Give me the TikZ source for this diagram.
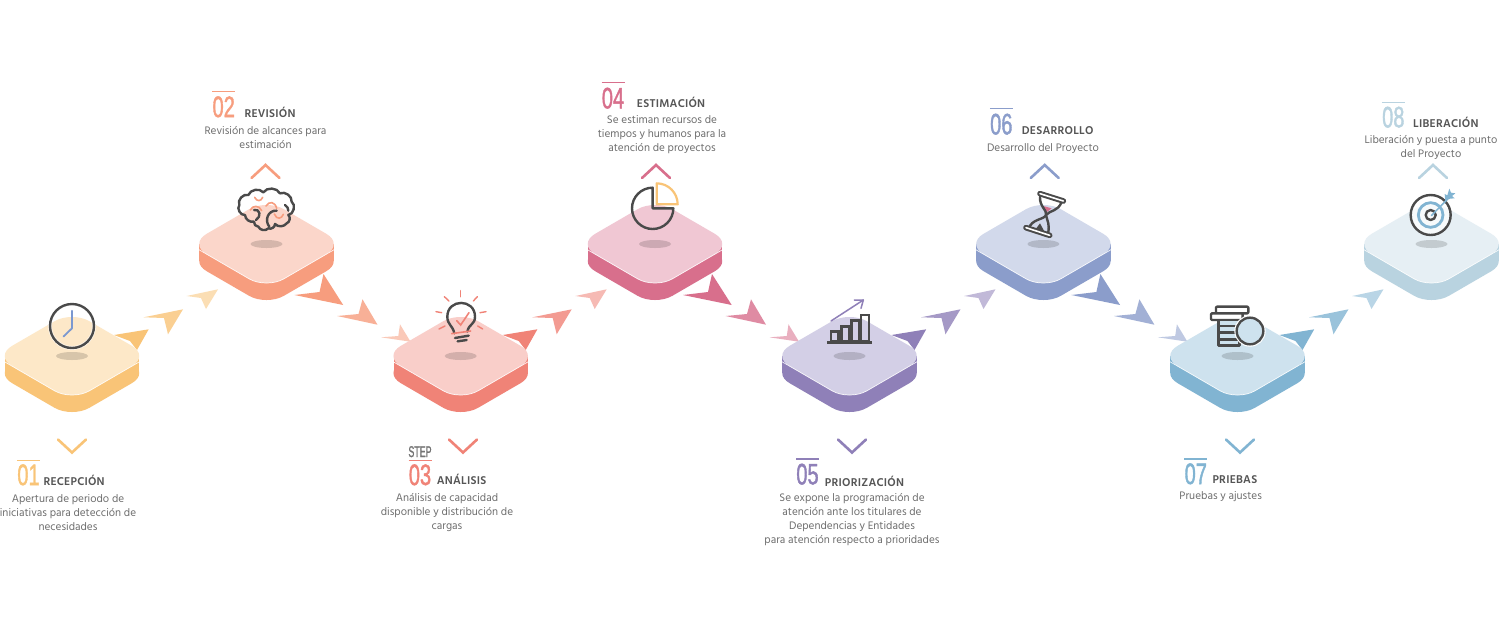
\documentclass[tikz,border=0pt]{standalone}
\usepackage{fontspec}
\setmainfont{Hind Madurai}
\newfontfamily\numfont[FakeBold=1.7]{Liberation Sans}
\definecolor{topa}{HTML}{FDE8C8}\definecolor{sidea}{HTML}{F9C477}
\definecolor{topb}{HTML}{FBD6CA}\definecolor{sideb}{HTML}{F79D7E}
\definecolor{topc}{HTML}{F9CEC9}\definecolor{sidec}{HTML}{F08377}
\definecolor{topd}{HTML}{F0C7D3}\definecolor{sided}{HTML}{D86F8C}
\definecolor{tope}{HTML}{D3CFE6}\definecolor{sidee}{HTML}{8F80B8}
\definecolor{topf}{HTML}{D2D9EB}\definecolor{sidef}{HTML}{8B9DCB}
\definecolor{topg}{HTML}{CEE2EE}\definecolor{sideg}{HTML}{81B4D2}
\definecolor{toph}{HTML}{E6EFF4}\definecolor{sideh}{HTML}{B9D3E0}
\definecolor{dk}{HTML}{4A4A4A}
\definecolor{headc}{HTML}{555555}
\definecolor{bodyc}{HTML}{6E6E6E}
\definecolor{handc}{HTML}{7B98D0}
\tikzset{
  x=1pt,y=-1pt,
  bodytext/.style={font=\fontsize{11.2}{14}\selectfont,text=bodyc,align=center,inner sep=0pt,anchor=north},
  headtext/.style={font=\fontsize{11.6}{13}\selectfont\bfseries\addfontfeature{LetterSpace=2},text=headc,inner sep=0pt,anchor=base west},
  numtext/.style={inner sep=0pt,anchor=base},
  chev/.style={line width=2.6pt,line cap=round,line join=miter},
  ico/.style={draw=dk,line width=2.4pt,line cap=round,line join=round},
  zoomed/.style={x=0.33333pt,y=-0.33333pt},
}
\newcommand\squircle{(-1,.55) .. controls (-1,.8) and (-.8,1) .. (-.55,1) -- (.55,1) .. controls (.8,1) and (1,.8) .. (1,.55) -- (1,-.55) .. controls (1,-.8) and (.8,-1) .. (.55,-1) -- (-.55,-1) .. controls (-.8,-1) and (-1,-.8) .. (-1,-.55) -- cycle}
\newcommand\platform[4]{%
  \begin{scope}[shift={(#1,#2)}]
    \fill[#4] (-67.2,0) rectangle (67.2,17);
    \begin{scope}[shift={(0,17)},x={(38.7pt,-22.45pt)},y={(-38.7pt,-22.45pt)}]
      \fill[#4] \squircle;
    \end{scope}
    \begin{scope}[x={(38.7pt,-22.45pt)},y={(-38.7pt,-22.45pt)}]
      \fill[#3] \squircle;
      \draw[white,line width=.7pt,opacity=.9] (-.8,1) -- (.55,1) .. controls (.8,1) and (1,.8) .. (1,.55) -- (1,-.8);
    \end{scope}
    \fill[black,opacity=.15] (0,0) ellipse [x radius=16,y radius=4];
  \end{scope}}
\newcommand\dartsup[3]{%
  \begin{scope}[shift={(#1,#2)}]
    \fill[#3] (42,-21) -- (76.7,-26.7) -- (65,-6) -- (58,-15) -- cycle;
    \fill[#3,opacity=.8] (71.7,-38.7) -- (111,-46.7) -- (96,-21.7) -- (92,-38) -- cycle;
    \fill[#3,opacity=.55] (114.7,-60) -- (146,-66.7) -- (134,-47) -- (129,-58) -- cycle;
  \end{scope}}
\newcommand\dartsdown[3]{%
  \begin{scope}[shift={(#1,#2)}]
    \fill[#3] (28,51) -- (53,48) -- (57,30) -- (76.7,61) -- cycle;
    \fill[#3,opacity=.8] (70.7,72) -- (92,70) -- (96,55.3) -- (111,80.7) -- cycle;
    \fill[#3,opacity=.55] (114.5,93.3) -- (131.8,92) -- (133.5,80.3) -- (144,97.7) -- cycle;
  \end{scope}}
\newcommand\chevdown[2]{\draw[chev,#2] ({#1-14},439.5) -- (#1,452.5) -- ({#1+14},439.5);}
\newcommand\chevup[2]{\draw[chev,#2] ({#1-14},178) -- (#1,165) -- ({#1+14},178);}
% name, colour, num x, baseline, line y, digits
\newcommand\stepnum[6]{%
  \draw[#2,line width=1.4pt] ({#3-11.5},#5) -- ({#3+11.5},#5);
  \node[numtext,text=#2] (#1) at (#3,#4) {\scalebox{.68}[1]{\fontsize{29.5}{29.5}\numfont #6}};}
\begin{document}
\begin{tikzpicture}
\useasboundingbox (0,0) rectangle (1500,625);
\fill[white] (0,0) rectangle (1500,625);
% darts
\dartsup{72}{356}{sidea}
\dartsdown{266.5}{244}{sideb}
\dartsup{460.7}{356}{sidec}
\dartsdown{655}{244}{sided}
\dartsup{849.5}{356}{sidee}
\dartsdown{1043.4}{244}{sidef}
\dartsup{1237.5}{356}{sideg}
% platforms
\platform{72}{356}{topa}{sidea}
\platform{266.5}{244}{topb}{sideb}
\platform{460.7}{356}{topc}{sidec}
\platform{655}{244}{topd}{sided}
\platform{849.5}{356}{tope}{sidee}
\platform{1043.4}{244}{topf}{sidef}
\platform{1237.5}{356}{topg}{sideg}
\platform{1431.5}{244}{toph}{sideh}
% chevrons
\chevdown{72}{sidea}
\chevup{265.5}{sideb}
\chevdown{463}{sidec}
\chevup{656}{sided}
\chevdown{852}{sidee}
\chevup{1044.7}{sidef}
\chevdown{1240}{sideg}
\chevup{1433}{sideh}
% numbers
\stepnum{n1}{sidea}{28.5}{485}{460.3}{01}
\stepnum{n2}{sideb}{223.7}{117}{91.3}{02}
\stepnum{n3}{sidec}{420}{485}{460.3}{03}
\stepnum{n4}{sided}{613}{108.3}{82.7}{04}
\stepnum{n5}{sidee}{807.5}{484.3}{459}{05}
\stepnum{n6}{sidef}{1001.3}{134.3}{108.3}{06}
\stepnum{n7}{sideg}{1195.8}{484}{459}{07}
\stepnum{n8}{sideh}{1393.3}{127.3}{102.3}{08}
\node[numtext,text=gray!90!black] (stepword) at (420,457) {\scalebox{.57}[1]{\fontsize{15.5}{15.5}\numfont STEP}};
% headings
\node[headtext] (h1) at (43.3,485) {RECEPCIÓN};
\node[headtext] (h2) at (244.3,117) {REVISIÓN};
\node[headtext] (h3) at (436.7,484.7) {ANÁLISIS};
\node[headtext] (h4) at (636.7,107) {ESTIMACIÓN};
\node[headtext] (h5) at (824.7,486) {PRIORIZACIÓN};
\node[headtext] (h6) at (1021.7,134.7) {DESARROLLO};
\node[headtext] (h7) at (1212.3,483.3) {PRIEBAS};
\node[headtext] (h8) at (1413,127) {LIBERACIÓN};
% body
\node[bodytext] (b1) at (68,494.2) {Apertura de periodo de\\iniciativas para detección de\\necesidades};
\node[bodytext] (b2) at (265.5,126.2) {Revisión de alcances para\\estimación};
\node[bodytext] (b3) at (447,493.2) {Análisis de capacidad\\disponible y distribución de\\cargas};
\node[bodytext] (b4) at (662,115.2) {Se estiman recursos de\\tiempos y humanos para la\\atención de proyectos};
\node[bodytext] (b5) at (852,492.9) {Se expone la programación de\\atención ante los titulares de\\Dependencias y Entidades\\para atención respecto a prioridades};
\node[bodytext] (b6) at (1043,143.2) {Desarrollo del Proyecto};
\node[bodytext] (b7) at (1220.7,491.2) {Pruebas y ajustes};
\node[bodytext] (b8) at (1431,135.5) {Liberación y puesta a punto\\del Proyecto};
% clock
\draw[white,line width=3.8pt,opacity=.7] (72,326) circle (22);
\draw[ico] (72,326) circle (22);
\draw[handc,line width=1.8pt,line cap=round,line join=round] (72,310.7) -- (72,328.3) -- (63.5,336.5);
% brain
\begin{scope}[shift={(180,80)},zoomed]
  \draw[ico] (195,405) to[bend left=70] (178,375) to[bend left=70] (205,345) to[bend left=60] (250,337) to[bend left=60] (300,340) to[bend left=60] (335,365) to[bend left=70] (325,405) to[bend left=60] (320,430) to[bend left=50] (285,432) to[bend left=60] (265,445) to[bend left=60] (235,440) to[bend left=50] (222,425) to[bend left=50] (195,405);
  \draw[ico] (228,420) .. controls (245,410) and (240,385) .. (222,390);
  \draw[ico] (268,440) .. controls (252,420) and (265,390) .. (290,392);
  \draw[ico] (315,375) .. controls (322,380) and (325,385) .. (325,392);
  \draw[sideb,line width=1.6pt,line cap=round] (224,352) .. controls (230,365) and (243,365) .. (248,352);
  \draw[sideb,line width=1.6pt,line cap=round] (211,390) .. controls (218,375) and (238,375) .. (245,392);
  \draw[sideb,line width=1.6pt,line cap=round] (258,378) .. controls (268,362) and (285,365) .. (290,385);
  \draw[sideb,line width=1.6pt,line cap=round] (283,402) .. controls (290,420) and (305,417) .. (310,403);
\end{scope}
% bulb
\begin{scope}[shift={(370,280)},zoomed]
  \draw[ico] (253,160) .. controls (248,135) and (232,135) .. (232,110) .. controls (232,55) and (315,55) .. (315,110) .. controls (315,135) and (297,130) .. (292,155);
  \draw[ico] (255,174) -- (296,167);
  \draw[ico] (263,184) -- (290,180);
  \draw[sidec,line width=1.6pt,line cap=round] (245,161) -- (302,153);
  \draw[sidec,line width=1.6pt,line cap=round] (260,122) -- (272,135) -- (297,98);
  \foreach \a/\b/\c/\d in {272/32/272/50,223/50/237/63,322/50/310/63,198/95/215/98,348/95/330/98,207/147/225/138,338/147/323/138}
    \draw[sidec,line width=1.4pt,line cap=round] (\a,\b) -- (\c,\d);
\end{scope}
% pie
\begin{scope}[shift={(570,70)},zoomed]
  \draw[ico] (248,353) arc[start angle=-90,end angle=-360,radius=62] -- (248,415) -- cycle;
  \draw[sidea,line width=2.2pt,line join=round] (260,340) arc[start angle=-90,end angle=0,radius=63] -- (260,403) -- cycle;
\end{scope}
% bars
\begin{scope}[shift={(750,280)},zoomed]
  \draw[sidee,line width=1.5pt,line cap=round,line join=round] (243,123) -- (340,60);
  \draw[sidee,line width=1.5pt,line cap=round,line join=round] (313,60) -- (340,60) -- (333,85);
  \draw[ico,line join=miter] (243,183) rectangle (265,155);
  \draw[ico,line join=miter] (275,183) rectangle (297,140);
  \draw[ico,line join=miter] (305,183) rectangle (327,122);
  \draw[ico,line join=miter] (333,183) rectangle (357,105);
  \fill[dk] (230,182) rectangle (367,193);
\end{scope}
% hourglass
\begin{scope}[shift={(960,90)},zoomed]
  \fill[sided] (250,348) -- (275,355) -- (258,368) -- cycle;
  \fill[dk] (225,420) -- (240,400) -- (255,428) -- cycle;
  \draw[ico] (240,320) .. controls (238,350) and (262,360) .. (258,375) .. controls (252,390) and (215,385) .. (205,418);
  \draw[ico] (305,335) .. controls (295,365) and (270,360) .. (258,375) .. controls (262,395) and (270,400) .. (264,432);
  \draw[dk,line width=5.6pt,line cap=round] (240,311) -- (310,333);
  \draw[white,line width=1.6pt,line cap=round] (240,311) -- (310,333);
  \draw[dk,line width=5.6pt,line cap=round] (198,413) -- (269,436);
  \draw[white,line width=1.6pt,line cap=round] (198,413) -- (269,436);
\end{scope}
% coins
\begin{scope}[shift={(1150,280)},zoomed]
  \draw[ico,fill=white,rounded corners=1pt] (198,80) rectangle (295,100);
  \draw[ico,fill=white,rounded corners=1pt] (183,100) rectangle (278,120);
  \draw[ico,fill=topg] (205,120) rectangle (268,138);
  \draw[ico,fill=topg] (205,138) rectangle (268,158);
  \draw[ico,fill=topg] (205,158) rectangle (268,178);
  \draw[ico,fill=topg] (205,178) rectangle (268,197);
  \draw[white,line width=4pt] (300,153) circle (41);
  \draw[ico,fill=topg] (300,153) circle (40);
\end{scope}
% target
\begin{scope}[shift={(1340,90)},zoomed]
  \draw[ico,fill=white,fill opacity=.7] (272,375) circle (60);
  \draw[sideg,line width=2.8pt] (272,375) circle (37);
  \draw[ico] (272,375) circle (15);
  \draw[sideg,line width=1.5pt,line cap=round] (274,377) -- (322,328);
  \fill[sideg] (316,333) -- (314,312) -- (322,316) -- (328,296) -- (333,308) -- (346,310) -- (336,318) -- (344,325) -- (330,326) -- cycle;
\end{scope}
\end{tikzpicture}
\end{document}
